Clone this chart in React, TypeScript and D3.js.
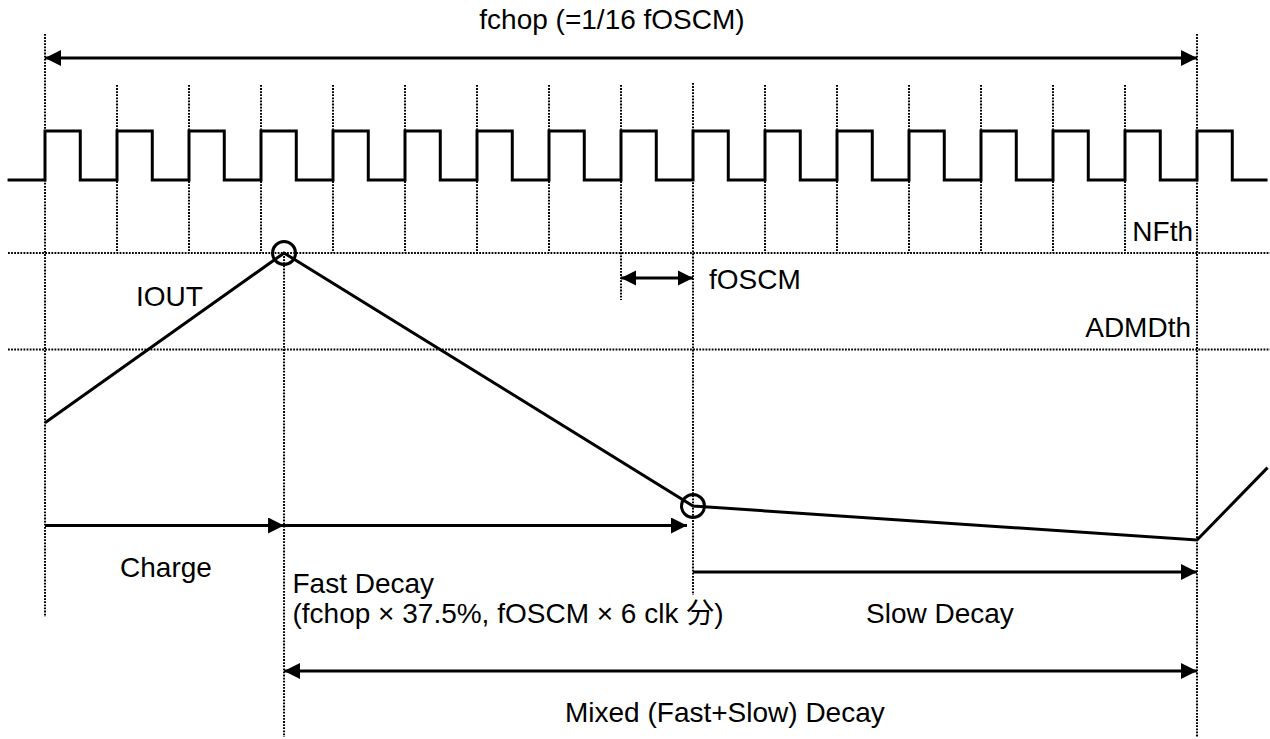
import React from 'react';
import * as d3 from 'd3';

// time is in fOSCM clock periods, current is in % of NFth
const clockEdges = [0, 1, 2, 3, 4, 5, 6, 7, 8, 9, 10, 11, 12, 13, 14, 15, 16];
const clockHigh = 0.49; // fraction of period the clock stays high
const clockSpan = [-0.52, 16.98];

const thresholds = [
    { name: 'NFth', level: 100 },
    { name: 'ADMDth', level: 68.6 },
];

const ioutTimes = [0, 3.32, 9, 16, 16.98];
const ioutLevels = [44.7, 100, 17.6, 6.5, 30.1];
const markedPoints = [1, 2]; // indices of circled points

const phaseStart = 0;
const peakTime = 3.32;
const fastEnd = 9;
const slowEnd = 16;

const font = '"Liberation Sans", Arial, "Noto Sans CJK JP", sans-serif';

const App: React.FC = () => {
    const width = 1270;
    const height = 739;

    const x = d3.scaleLinear().domain([0, 16]).range([45, 1197]);
    const yCur = d3.scaleLinear().domain([0, 100]).range([560, 253]);
    const yClk = d3.scaleLinear().domain([0, 1]).range([180, 131]);

    // clock waveform
    const clkPts: [number, number][] = [[clockSpan[0], 0]];
    clockEdges.forEach(t => {
        clkPts.push([t, 0], [t, 1], [t + clockHigh, 1], [t + clockHigh, 0]);
    });
    clkPts.push([clockSpan[1], 0]);
    const clkLine = d3.line<[number, number]>()
        .x(d => x(d[0]))
        .y(d => yClk(d[1]));

    const ioutLine = d3.line<number>()
        .x((_, i) => x(ioutTimes[i]))
        .y(d => yCur(d));

    const dotted = { stroke: '#000', strokeWidth: 2, strokeDasharray: '1.8 1.3', fill: 'none' };
    const solid = { stroke: '#000', strokeWidth: 3, fill: 'none' };
    const txt = { fontFamily: font, fontSize: 28, fill: '#000' };

    // vertical grid extents
    const gridBottom = (t: number) => {
        if (t === 8) return 300;
        if (t === fastEnd) return 595;
        return 253;
    };

    const arrowLine = (t0: number, t1: number, y: number, both: boolean, key: string, trimEnd = 0) => (
        <line key={key} x1={x(t0)} x2={x(t1) - trimEnd} y1={y} y2={y} {...solid}
            markerEnd="url(#head)" markerStart={both ? 'url(#head)' : undefined} />
    );

    return (
        <svg width={width} height={height} style={{ position: 'absolute', left: 0, top: 0, background: '#fff' }}>
            <defs>
                <marker id="head" markerUnits="userSpaceOnUse" markerWidth={16} markerHeight={16}
                    viewBox="0 -7.5 15 15" refX={15} refY={0} orient="auto-start-reverse">
                    <path d="M0,-7.5L15,0L0,7.5Z" fill="#000" />
                </marker>
                <marker id="headSmall" markerUnits="userSpaceOnUse" markerWidth={16} markerHeight={16}
                    viewBox="0 -8 15 16" refX={15} refY={0} orient="auto-start-reverse">
                    <path d="M0,-7.5L15,0L0,7.5Z" fill="#000" />
                </marker>
            </defs>

            {/* threshold lines */}
            {thresholds.map(th => (
                <line key={th.name} x1={8} x2={1270} y1={yCur(th.level)} y2={yCur(th.level)} {...dotted} />
            ))}

            {/* clock grid */}
            {clockEdges.filter(t => t > 0 && t < 16).map(t => (
                <line key={'g' + t} x1={x(t)} x2={x(t)} y1={t === fastEnd ? 83 : 85} y2={gridBottom(t)} {...dotted} />
            ))}
            <line x1={x(phaseStart)} x2={x(phaseStart)} y1={34} y2={617} {...dotted} />
            <line x1={x(slowEnd)} x2={x(slowEnd)} y1={34} y2={737} {...dotted} />
            <line x1={x(peakTime)} x2={x(peakTime)} y1={yCur(100)} y2={737} {...dotted} />

            {/* clock */}
            <path d={clkLine(clkPts) ?? ''} {...solid} strokeLinejoin="miter" />

            {/* IOUT */}
            <path d={ioutLine(ioutLevels) ?? ''} {...solid} />
            {markedPoints.map(i => (
                <circle key={'c' + i} cx={x(ioutTimes[i])} cy={yCur(ioutLevels[i])} r={11.5}
                    fill="none" stroke="#000" strokeWidth={3} />
            ))}

            {/* arrows */}
            {arrowLine(phaseStart, slowEnd, 58, true, 'fchop')}
            {arrowLine(phaseStart, peakTime, 525.5, false, 'charge')}
            {arrowLine(peakTime, fastEnd, 525.5, false, 'fast', 6)}
            {arrowLine(fastEnd, slowEnd, 572, false, 'slow')}
            {arrowLine(peakTime, slowEnd, 671, true, 'mixed')}
            <line x1={x(8)} x2={x(9)} y1={278} y2={278} stroke="#000" strokeWidth={3}
                markerStart="url(#headSmall)" markerEnd="url(#headSmall)" />

            {/* labels */}
            <text x={612} y={28.5} textAnchor="middle" {...txt}>fchop (=1/16 fOSCM)</text>
            <text x={1193} y={241} textAnchor="end" {...txt}>NFth</text>
            <text x={1191} y={337} textAnchor="end" {...txt}>ADMDth</text>
            <text x={136} y={306} {...txt}>IOUT</text>
            <text x={709} y={289} {...txt}>fOSCM</text>
            <text x={166} y={577} textAnchor="middle" {...txt}>Charge</text>
            <text x={292.5} y={593} {...txt}>Fast Decay</text>
            <text x={292.5} y={623} {...txt}>(fchop × 37.5%, fOSCM × 6 clk 分)</text>
            <text x={866} y={623} {...txt}>Slow Decay</text>
            <text x={565} y={722} {...txt}>Mixed (Fast+Slow) Decay</text>
        </svg>
    );
};

export default App;
